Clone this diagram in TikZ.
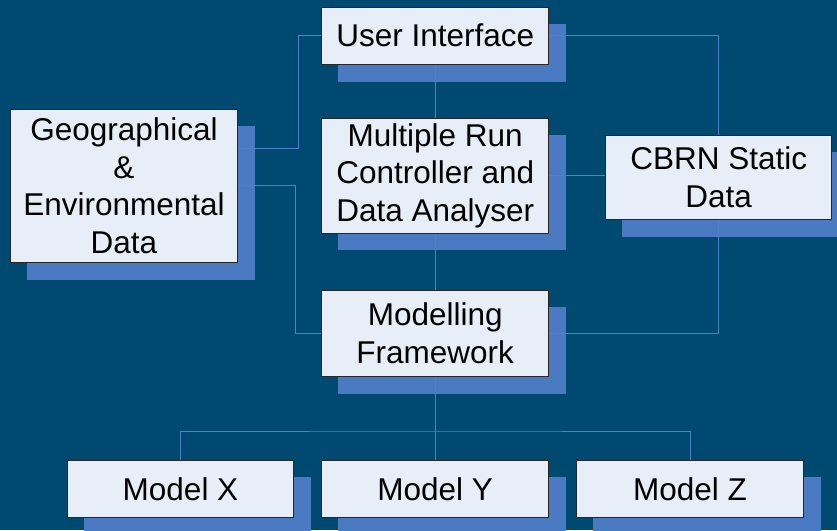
\documentclass[tikz,border=0pt]{standalone}
\usepackage{fontspec}
\setmainfont{Liberation Sans}
\usetikzlibrary{calc}
\definecolor{bgblue}{RGB}{0,74,114}
\definecolor{shadowblue}{RGB}{74,122,194}
\definecolor{wireblue}{RGB}{80,128,200}
\definecolor{boxfill}{RGB}{232,238,248}
\pgfdeclarelayer{shadowlayer}
\pgfdeclarelayer{wirelayer}
\pgfsetlayers{shadowlayer,wirelayer,main}
\tikzset{
  blockbox/.style={draw=black!85, line width=0.9pt, fill=boxfill, inner sep=0pt,
    align=center, font=\fontsize{31.5}{37.5}\selectfont},
  wire/.style={draw=wireblue, line width=1pt},
  boxshadow/.style={fill=shadowblue}
}
\begin{document}
\begin{tikzpicture}[x=1pt,y=-1pt]
\useasboundingbox (0,0) rectangle (837,530);
\begin{pgfonlayer}{shadowlayer}
  \fill[bgblue] (0,0) rectangle (837,530);
\end{pgfonlayer}

% blocks
\node[blockbox, minimum width=227pt, minimum height=56.7pt] (ui) at (435.2,35.7) {User Interface};
\node[blockbox, minimum width=226.6pt, minimum height=153pt] (geo) at (124,185.8)
  {Geographical\\ \&\\ Environmental\\ Data};
\node[blockbox, minimum width=227pt, minimum height=115pt] (mr) at (435.2,175.5)
  {Multiple Run\\ Controller and\\ Data Analyser};
\node[blockbox, minimum width=226pt, minimum height=84.3pt] (cbrn) at (718.7,177.2)
  {CBRN Static\\ Data};
\node[blockbox, minimum width=227pt, minimum height=86pt] (mf) at (435.2,333.3)
  {Modelling\\ Framework};
\node[blockbox, minimum width=226.4pt, minimum height=56.6pt] (mx) at (180.5,489) {Model X};
\node[blockbox, minimum width=227pt, minimum height=56.6pt] (my) at (435.2,489) {Model Y};
\node[blockbox, minimum width=226.6pt, minimum height=56.6pt] (mz) at (690,489) {Model Z};

% offset shadows behind every block
\begin{pgfonlayer}{shadowlayer}
  \foreach \b in {ui,geo,mr,cbrn,mf,mx,my,mz}
    \fill[boxshadow] ([shift={(17,17)}]\b.north west) rectangle ([shift={(17,17)}]\b.south east);
\end{pgfonlayer}

% connectors
\begin{pgfonlayer}{wirelayer}
  \coordinate (jl) at (298.3,148.3);
  \draw[wire] (ui.west) -| (jl) -- (jl -| geo.east);
  \draw[wire] (geo.east) -| ([xshift=-25.7pt]mf.west) -- (mf.west);
  \draw[wire] (ui.east) -| (cbrn.north);
  \draw[wire] (cbrn.south) |- (mf.east);
  \draw[wire] (mr.east) -- (mr.east -| cbrn.west);
  \draw[wire] (ui.south) -- (mr.north);
  \draw[wire] (mr.south) -- (mf.north);
  \coordinate (bus) at (435.2,431);
  \draw[wire] (mf.south) -- (bus);
  \draw[wire] (mx.north) |- (bus) -| (mz.north);
  \draw[wire] (bus) -- (my.north);
\end{pgfonlayer}
\end{tikzpicture}
\end{document}
